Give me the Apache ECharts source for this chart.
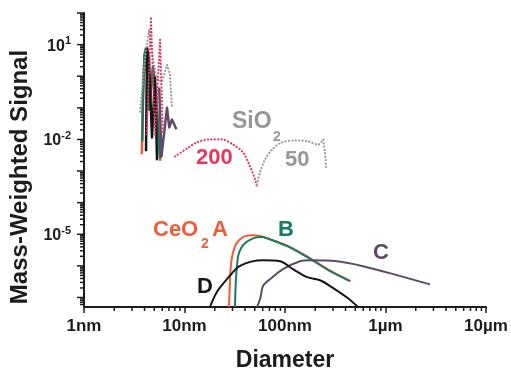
<!DOCTYPE html>
<html>
<head>
<meta charset="utf-8">
<script src="https://cdn.jsdelivr.net/npm/echarts@6/dist/echarts.min.js"></script>
<style>html,body{margin:0;padding:0;background:#fff}#chart{width:511px;height:370px}</style>
</head>
<body>
<div id="chart"></div>
<script>
// diameter (nm) , mass-weighted signal
var aSpike=[[3.76,3.4e-3],[3.86,0.3],[4.0,4.8],[4.14,7.5],[4.43,0.089],[4.86,1.88],[5.2,0.26],[5.75,2.1e-3]]
var bSpike=[[3.8,8.7e-3],[3.88,0.3],[4.0,4.8],[4.14,7.5],[4.43,0.089],[4.86,1.88],[5.2,0.26],[5.7,2.5e-3]]
var dSpike=[[4.14,4.2e-3],[4.24,8.0],[4.43,3.4],[4.75,0.0115],[5.09,0.91],[5.33,2.2e-3]]
var cSpike=[[5.6,0.44],[5.9,2.9e-3],[6.7,0.1],[7.05,0.024],[7.5,0.043],[8.3,0.021]]
var pinkSpike=[[4.2,0.0145],[4.64,66],[5.09,0.0145],[5.71,14.3],[6.11,0.0145]]
var pinkArc=[[8.05,2.9e-3],[10.6,5.2e-3],[13.3,8.1e-3],[17.9,0.01],[23.6,0.01],[30.4,6.9e-3],[38.2,3.9e-3],[44.9,1.4e-3],[50.3,5.5e-4],[52.7,3.0e-4]]
var graySpike=[[3.61,0.076],[4.05,3.4],[4.43,30],[4.86,3.4],[5.33,0.79],[5.97,0.68],[6.7,2.3],[7.17,1.13],[7.51,0.1]]
var grayArc=[[52.7,3.8e-4],[56.4,9.1e-4],[63.2,2.3e-3],[74.3,4.8e-3],[93.4,8.1e-3],[126,9.3e-3],[169,8.7e-3],[213,6.9e-3],[233,8.7e-3],[239,0.01],[245,6e-3],[250,3.9e-3],[256,1.3e-3]]
var aCurve=[[27.7,5e-8],[28.4,3.8e-7],[29.0,1.1e-6],[30.4,2.7e-6],[32.5,4.8e-6],[35.7,6.9e-6],[40,8.7e-6],[47,9.3e-6],[56.4,8.9e-6],[66.2,7.6e-6],[105,4.4e-6],[166,2.0e-6],[281,7.1e-7],[450,3.3e-7]]
var bCurve=[[31.8,5e-8],[32.5,3.8e-7],[34.1,2.0e-6],[36.5,3.6e-6],[40,5.2e-6],[45.9,6.9e-6],[52.7,8.1e-6],[60,8.2e-6],[66.2,7.4e-6],[105,4.2e-6],[166,1.9e-6],[281,6.8e-7],[443,3.3e-7]]
var cCurve=[[52.7,5e-8],[57,1.0e-7],[60.4,2.3e-7],[71,3.8e-7],[95.5,7.9e-7],[141,1.4e-6],[177,1.5e-6],[329,1.4e-6],[597,9.8e-7],[1300,5.1e-7],[2770,2.6e-7]]
var dCurve=[[17.9,5e-8],[21.0,1.5e-7],[26.5,3.8e-7],[35.7,1.0e-6],[60.4,1.5e-6],[89.2,1.4e-6],[120,7.9e-7],[166,4.4e-7],[223,3.5e-7],[281,2.3e-7],[414,1.0e-7],[533,5e-8]]

// axis ticks and labels
var xMin=1, xMax=10000
var yMin=5e-8, yMax=100
var xLabels={1:'1nm',10:'10nm',100:'100nm',1000:'1\u00b5m',10000:'10\u00b5m'}
var yLabelExps=[1,-2,-5]
var yDecades=[-7,-6,-5,-4,-3,-2,-1,0,1,2]
var xDecades=[0,1,2,3]
var minorMult=[2,3,4,5,6,7,8,9]

var FONT='"Liberation Sans", Arial, sans-serif'
var AX='#1c1c1c'

// tick marks (drawn at axis positions through the axes)
var tickData=[]
yDecades.forEach(function(e){ tickData.push([xMin,Math.pow(10,e),7,1]) })
yDecades.concat([-8]).forEach(function(e){
	minorMult.forEach(function(m){
		var v=m*Math.pow(10,e)
		if(v>yMin*1.05 && v<yMax) tickData.push([xMin,v,4,1])
	})
})
xDecades.forEach(function(e){
	minorMult.forEach(function(m){ tickData.push([m*Math.pow(10,e),yMin,4,0]) })
})

function line(name,data,color,w,dotted,smooth){
	return {
		name:name,type:'line',data:data,symbol:'none',smooth:smooth||false,
		lineStyle:{color:color,width:w,type:dotted?[0.1,3.3]:'solid',cap:dotted?'round':'butt',join:'round'},
		silent:true
	}
}

var mychart=echarts.init(document.getElementById('chart'))
var option={
	animation:false,
	grid:{left:84,right:25,top:13,bottom:63,outerBoundsMode:'none'},
	xAxis:{
		type:'log',min:xMin,max:xMax,
		name:'Diameter',nameLocation:'middle',nameGap:42,
		nameTextStyle:{fontFamily:FONT,fontWeight:'bold',fontSize:23,color:AX},
		axisLine:{lineStyle:{color:AX,width:2}},
		axisTick:{length:6,lineStyle:{color:AX,width:1.5}},
		axisLabel:{margin:11,fontFamily:FONT,fontWeight:'bold',fontSize:17,color:AX,
			formatter:function(v){return xLabels[Math.round(v)]||''}},
		splitLine:{show:false}
	},
	yAxis:{
		type:'log',min:yMin,max:yMax,splitNumber:10,
		name:'Mass-Weighted Signal',nameLocation:'middle',nameGap:51,
		nameTextStyle:{fontFamily:FONT,fontWeight:'bold',fontSize:24,color:AX,padding:[0,34,0,0]},
		axisLine:{lineStyle:{color:AX,width:2}},
		axisTick:{show:false},
		axisLabel:{margin:13,padding:[3,0,0,0],
			formatter:function(v){
				var l=Math.log10(v),e=Math.round(l)
				if(Math.abs(l-e)>1e-6||yLabelExps.indexOf(e)<0) return ''
				return '{b|10}{s|'+e+'}'
			},
			rich:{
				b:{fontFamily:FONT,fontWeight:'bold',fontSize:16,lineHeight:21,color:AX},
				s:{fontFamily:FONT,fontWeight:'bold',fontSize:11,lineHeight:11,verticalAlign:'top',color:AX}
			}
		},
		splitLine:{show:false}
	},
	series:[
		line('A',aSpike,'#f15a3a',2.5),
		line('B',bSpike,'#1b7a5f',2.5),
		line('D',dSpike,'#151515',2.5),
		line('C',cSpike,'#5b4b66',2.5),
		line('SiO2 50',graySpike,'#9a9a9a',2.2,true),
		line('SiO2 200',pinkSpike,'#e8365d',2.2,true),
		line('SiO2 200 arc',pinkArc,'#e8365d',2.2,true,0.3),
		line('SiO2 50 arc',grayArc,'#9a9a9a',2.2,true,0.3),
		line('A',aCurve,'#f15a3a',2,false,0.3),
		line('B',bCurve,'#1b7a5f',2,false,0.3),
		line('C',cCurve,'#5b4b66',2,false,0.3),
		line('D',dCurve,'#151515',2,false,0.3),
		{
			type:'custom',clip:false,silent:true,data:tickData,encode:{x:0,y:1},
			renderItem:function(params,api){
				var p=api.coord([api.value(0),api.value(1)])
				var len=api.value(2)
				var shape=api.value(3)?{x1:p[0]-len,y1:p[1],x2:p[0],y2:p[1]}:{x1:p[0],y1:p[1],x2:p[0],y2:p[1]+len}
				return {type:'line',shape:shape,style:{stroke:AX,lineWidth:1.5}}
			}
		}
	],
	graphic:[
		{type:'text',x:232,y:110,style:{text:'SiO',fill:'#9a9696',font:'bold 23px '+FONT}},
		{type:'text',x:273,y:130,style:{text:'2',fill:'#9a9696',font:'bold 14px '+FONT}},
		{type:'text',x:196,y:147,style:{text:'200',fill:'#e8365d',font:'bold 22px '+FONT}},
		{type:'text',x:285,y:149,style:{text:'50',fill:'#9a9696',font:'bold 22px '+FONT}},
		{type:'text',x:153,y:219,style:{text:'CeO',fill:'#f15a3a',font:'bold 22px '+FONT}},
		{type:'text',x:201,y:237,style:{text:'2',fill:'#f15a3a',font:'bold 14px '+FONT}},
		{type:'text',x:212,y:219,style:{text:'A',fill:'#f15a3a',font:'bold 22px '+FONT}},
		{type:'text',x:278,y:219,style:{text:'B',fill:'#1b7a5f',font:'bold 22px '+FONT}},
		{type:'text',x:373,y:242,style:{text:'C',fill:'#5b4b66',font:'bold 22px '+FONT}},
		{type:'text',x:197,y:276,style:{text:'D',fill:'#151515',font:'bold 22px '+FONT}}
	]
}
mychart.setOption(option)
</script>
</body>
</html>
